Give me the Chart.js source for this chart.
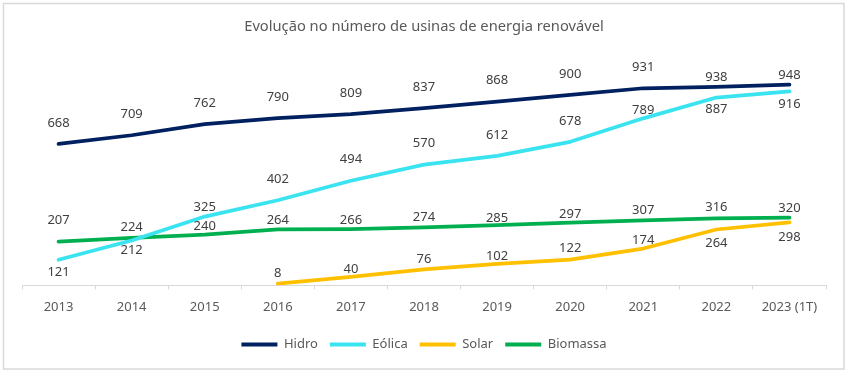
<!DOCTYPE html>
<html>
<head>
<meta charset="utf-8">
<script src="https://cdn.jsdelivr.net/npm/chart.js@4/dist/chart.umd.min.js"></script>
<style>
  body { margin: 0; background: #fff; }
  #wrap { width: 849px; height: 373px; position: relative; }
</style>
</head>
<body>
<div id="wrap"><canvas id="usinasChart" width="849" height="373"></canvas></div>
<script>
const years = ["2013", "2014", "2015", "2016", "2017", "2018", "2019", "2020", "2021", "2022", "2023 (1T)"];
const hidro = [668, 709, 762, 790, 809, 837, 868, 900, 931, 938, 948];
const eolica = [121, 212, 325, 402, 494, 570, 612, 678, 789, 887, 916];
const solar = [null, null, null, 8, 40, 76, 102, 122, 174, 264, 298];
const biomassa = [207, 224, 240, 264, 266, 274, 285, 297, 307, 316, 320];

// vertical shift (px) of each value label from its point, negative = above
const labelShift = {
  Hidro: [-21, -21, -21, -21, -21, -21, -21, -21, -21, -9, -9],
  "Eólica": [13, 10, -9, -21, -21, -21, -21, -21, -8, 12, 13],
  Solar: [0, 0, 0, -10, -8, -10.5, -8, -11, -8.5, 14, 15],
  Biomassa: [-21, -11, -8.5, -9.5, -8.5, -10, -6.5, -8, -10.5, -11.5, -9.5],
};

const frame = {
  id: "frame",
  beforeDraw(chart) {
    const ctx = chart.ctx;
    ctx.save();
    ctx.fillStyle = "#fff";
    ctx.fillRect(0, 0, chart.width, chart.height);
    ctx.strokeStyle = "#d9d9d9";
    ctx.lineWidth = 1.5;
    ctx.strokeRect(3.5, 3.5, 840.5, 365.5);
    ctx.restore();
  },
};

const valueLabels = {
  id: "valueLabels",
  afterDatasetsDraw(chart) {
    const ctx = chart.ctx;
    ctx.save();
    ctx.font = "13px 'Noto Sans'";
    ctx.fillStyle = "#404040";
    ctx.textAlign = "center";
    ctx.textBaseline = "middle";
    chart.data.datasets.forEach((ds, i) => {
      const meta = chart.getDatasetMeta(i);
      meta.data.forEach((pt, j) => {
        const v = ds.data[j];
        if (v === null || v === undefined) return;
        ctx.fillText(String(v), pt.x, pt.y + labelShift[ds.label][j]);
      });
    });
    ctx.restore();
  },
};

function line(label, data, color) {
  return {
    label: label,
    data: data,
    borderColor: color,
    backgroundColor: color,
    borderWidth: 3.75,
    borderCapStyle: "round",
    borderJoinStyle: "round",
    pointRadius: 0,
    pointHoverRadius: 0,
    tension: 0,
    spanGaps: false,
  };
}

new Chart(document.getElementById("usinasChart"), {
  type: "line",
  data: {
    labels: years,
    datasets: [
      line("Hidro", hidro, "#002060"),
      line("Eólica", eolica, "#3ae3f0"),
      line("Solar", solar, "#ffc000"),
      line("Biomassa", biomassa, "#00b050"),
    ],
  },
  options: {
    responsive: false,
    animation: false,
    events: [],
    layout: { padding: { left: 22, right: 23, top: 0, bottom: 12 } },
    scales: {
      x: {
        offset: true,
        grid: {
          offset: true,
          drawOnChartArea: false,
          drawTicks: true,
          tickLength: 4,
          color: "#d9d9d9",
        },
        border: { color: "#d9d9d9", width: 1 },
        ticks: {
          color: "#595959",
          font: { family: "'Noto Sans'", size: 13 },
          padding: 10,
          maxRotation: 0,
          autoSkip: false,
        },
        afterFit(scale) {
          scale.height += 1;
        },
      },
      y: {
        display: false,
        min: 0,
        max: 1000,
      },
    },
    plugins: {
      title: {
        display: true,
        text: "Evolução no número de usinas de energia renovável",
        color: "#595959",
        font: { family: "'Noto Sans'", size: 14.7, weight: "normal" },
        padding: { top: 18, bottom: 38 },
      },
      legend: {
        position: "bottom",
        labels: {
          color: "#595959",
          font: { family: "'Noto Sans'", size: 13 },
          boxWidth: 36,
          boxHeight: 4,
          padding: 12,
          generateLabels(chart) {
            return Chart.defaults.plugins.legend.labels.generateLabels(chart).map((l) => {
              l.lineWidth = 0;
              return l;
            });
          },
        },
      },
      tooltip: { enabled: false },
    },
  },
  plugins: [frame, valueLabels],
});
</script>
</body>
</html>
